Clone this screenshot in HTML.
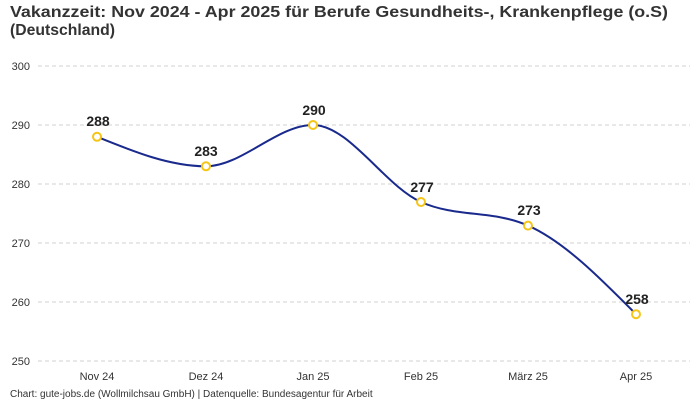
<!DOCTYPE html>
<html><head><meta charset="utf-8"><style>
body{margin:0;background:#fff;font-family:"Liberation Sans",sans-serif;}
</style></head><body>
<svg width="700" height="400" xmlns="http://www.w3.org/2000/svg" font-family="Liberation Sans, sans-serif">
<rect width="700" height="400" fill="#fff"/>
<text x="10" y="17" font-size="16" font-weight="bold" fill="#333" textLength="658" lengthAdjust="spacingAndGlyphs">Vakanzzeit: Nov 2024 - Apr 2025 für Berufe Gesundheits-, Krankenpflege (o.S)</text>
<text x="10" y="35" font-size="16" font-weight="bold" fill="#333" textLength="105" lengthAdjust="spacingAndGlyphs">(Deutschland)</text>
<g stroke="#d0d0d0" stroke-dasharray="4,3" stroke-width="1">
<line x1="38" x2="690" y1="66" y2="66"/><line x1="38" x2="690" y1="125" y2="125"/>
<line x1="38" x2="690" y1="184" y2="184"/><line x1="38" x2="690" y1="243" y2="243"/>
<line x1="38" x2="690" y1="302" y2="302"/><line x1="38" x2="690" y1="361" y2="361"/>
</g>
<g font-size="11" fill="#333" text-anchor="end">
<text x="30" y="70">300</text><text x="30" y="129">290</text><text x="30" y="188">280</text>
<text x="30" y="247">270</text><text x="30" y="306">260</text><text x="30" y="365">250</text>
</g>
<g font-size="11" fill="#333" text-anchor="middle">
<text x="97" y="380">Nov 24</text><text x="206" y="380">Dez 24</text><text x="313" y="380">Jan 25</text>
<text x="421" y="380">Feb 25</text><text x="528" y="380">März 25</text><text x="636" y="380">Apr 25</text>
</g>
<path d="M97,136.8 C133.3,151.5 169.7,166.3 206,166.3 C241.7,166.3 277.3,125 313,125 C349,125 385,186.1 421,202 C456.7,217.8 492.3,209.8 528,225.6 C564,241.5 600,277.9 636,314.2" fill="none" stroke="#1a2a8c" stroke-width="2"/>
<g fill="#fff" stroke="#f5c518" stroke-width="2">
<circle cx="97" cy="136.8" r="4"/><circle cx="206" cy="166.3" r="4"/><circle cx="313" cy="125" r="4"/>
<circle cx="421" cy="202" r="4"/><circle cx="528" cy="225.6" r="4"/><circle cx="636" cy="314.2" r="4"/>
</g>
<g font-size="14" font-weight="bold" fill="#222" text-anchor="middle">
<text x="98" y="126">288</text><text x="206" y="156">283</text><text x="314" y="115">290</text>
<text x="422" y="192">277</text><text x="529" y="215">273</text><text x="637" y="304">258</text>
</g>
<text x="10" y="397" font-size="10" fill="#333">Chart: gute-jobs.de (Wollmilchsau GmbH) | Datenquelle: Bundesagentur für Arbeit</text>
</svg>
</body></html>
